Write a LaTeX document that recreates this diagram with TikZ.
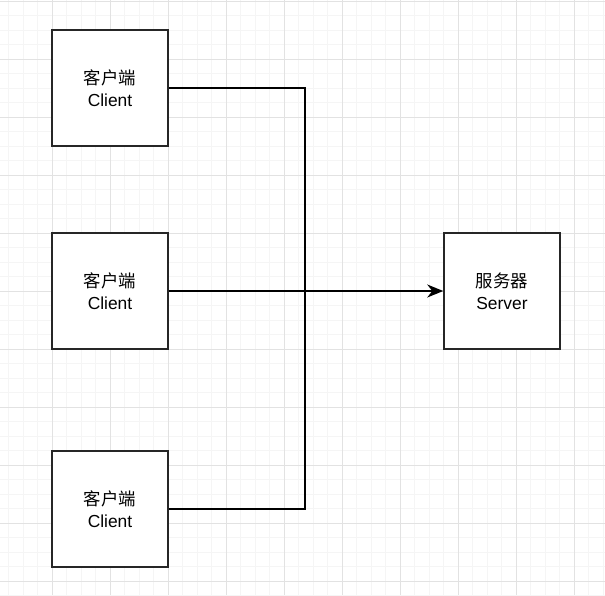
\documentclass[tikz,border=0pt]{standalone}
\usepackage{fontspec}
\setmainfont{Liberation Sans}
\newfontfamily\cjk{Noto Sans CJK SC}
\usetikzlibrary{arrows.meta}
\definecolor{minorline}{HTML}{F5F5F5}
\definecolor{majorline}{HTML}{E2E2E2}
\tikzset{
  minor grid/.style={draw=minorline,line width=1pt},
  major grid/.style={draw=majorline,line width=1pt},
  simple box/.style={draw=black!85,line width=1.5pt,fill=white,minimum width=116pt,minimum height=116pt,align=center,inner sep=0pt,font=\fontsize{17.4}{22}\selectfont},
  link/.style={draw=black,line width=1.4pt},
}

\begin{document}
\begin{tikzpicture}[x=1pt,y=-1pt]
\useasboundingbox (0,0) rectangle (605,595);
% the grid
\fill[white] (0,0) rectangle (605,595);
\foreach \k in {0,...,42} {
  \draw[minor grid] (-5.7+14.5*\k,0) -- (-5.7+14.5*\k,595);
  \draw[minor grid] (0,1.3+14.5*\k) -- (605,1.3+14.5*\k);
}
\foreach \k in {0,...,10} {
  \draw[major grid] (-5.7+58*\k,0) -- (-5.7+58*\k,595);
  \draw[major grid] (0,1.3+58*\k) -- (605,1.3+58*\k);
}
% the nodes
\node[simple box] (clientA) at (110,88) {{\cjk 客户端}\\Client};
\node[simple box] (clientB) at (110,291) {{\cjk 客户端}\\Client};
\node[simple box] (clientC) at (110,509) {{\cjk 客户端}\\Client};
\node[simple box] (server) at (502,291) {{\cjk 服务器}\\Server};
\coordinate (hub) at (305,291);
% the connectors
\draw[link] (clientA.east) -| (hub);
\draw[link] (clientC.east) -| (hub);
\draw[link,-{Stealth[length=16pt,width=13pt,inset=5pt]}] (clientB.east) -- (server.west);
\end{tikzpicture}
\end{document}
